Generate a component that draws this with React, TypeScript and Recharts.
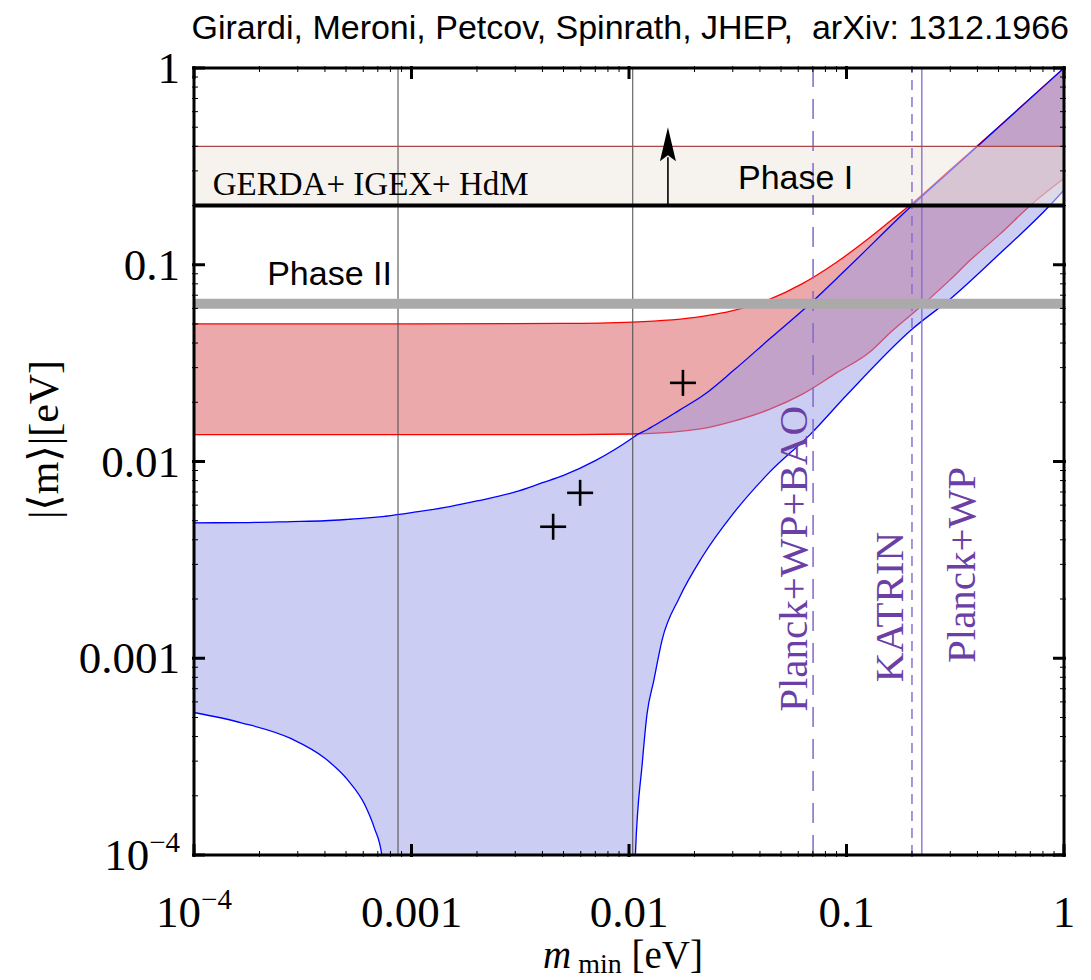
import React from 'react';
import { ComposedChart, Area, Scatter, XAxis, YAxis, ReferenceLine, ReferenceDot } from 'recharts';

const SERIF = '"Liberation Serif", "Times New Roman", "DejaVu Serif", serif';
const SANS = '"Liberation Sans", Arial, "DejaVu Sans", sans-serif';
const PURPLE_TEXT = '#6b3fa6';
const PURPLE_LINE = '#8468cc';

// inverted hierarchy band, m_min [eV] -> |<m>| range [eV]
const IH_M = [1e-4, 0.001, 0.005, 0.0104, 0.0217, 0.03, 0.0442, 0.0627, 0.09, 0.128, 0.16, 0.211, 0.3, 0.369, 0.5, 0.743, 1];
const IH_LO = [0.0137, 0.0137, 0.0137, 0.0138, 0.0147, 0.016, 0.0184, 0.022, 0.0282, 0.036, 0.0455, 0.0591, 0.084, 0.105, 0.141, 0.212, 0.275];
const IH_HI = [0.0501, 0.0501, 0.0503, 0.0511, 0.0546, 0.0584, 0.0667, 0.0802, 0.103, 0.1374, 0.1677, 0.215, 0.304, 0.372, 0.502, 0.745, 1];

// normal hierarchy band; BELOW means the minimum drops under the plotted range
const BELOW = 1e-6;
const NH_M = [
  1e-4, 1.65e-4, 2.8e-4, 4e-4, 5.1e-4, 6.1e-4, 6.75e-4, 7.3e-4, 7.6e-4, 0.001, 0.0015, 0.002, 0.003, 0.004, 0.005, 0.007,
  0.0104, 0.0107, 0.0115, 0.0121, 0.013, 0.0142, 0.017, 0.0217, 0.03, 0.0442, 0.068, 0.1, 0.2, 0.3, 0.5, 0.86, 1,
];
const NH_LO = [
  5.3e-4, 4.7e-4, 3.9e-4, 3.1e-4, 2.4e-4, 1.8e-4, 1.37e-4, 1.0e-4, BELOW, BELOW, BELOW, BELOW, BELOW, BELOW, BELOW, BELOW,
  BELOW, 1.0e-4, 2.9e-4, 5.2e-4, 7.7e-4, 0.00124, 0.00202, 0.00327, 0.0054, 0.0088, 0.0137, 0.0217, 0.047, 0.067, 0.1124, 0.2, 0.24,
];
const NH_HI = [
  0.00488, 0.00489, 0.00495, 0.005, 0.00508, 0.00515, 0.0052, 0.00524, 0.00527, 0.0055, 0.0059, 0.0063, 0.007, 0.0078, 0.0085, 0.0101,
  0.0132, 0.0135, 0.0141, 0.0145, 0.0152, 0.0161, 0.0182, 0.0215, 0.0288, 0.0419, 0.0634, 0.0951, 0.2, 0.3, 0.5, 0.86, 1,
];

// GERDA+IGEX+HdM band and experiment lines
const BAND_M = [1e-4, 1];
const BAND_LO = 0.2;
const BAND_HI = 0.4;
const PHASE2 = 0.0634;
const GRAY_M = [8.67e-4, 0.0104];
const BAO_M = 0.0702;
const KATRIN_M = 0.2;
const PLANCK_M = 0.222;
const ARROW_M = 0.0151;
const ARROW_TOP = 0.5;

// model points
const CROSS_M = [0.00448, 0.00596, 0.0177];
const CROSS_Y = [0.00466, 0.00693, 0.0251];

const DECADES = [1e-4, 1e-3, 1e-2, 1e-1, 1];
const DECADE_LABELS = ['10^-4', '0.001', '0.01', '0.1', '1'];
const MINOR_STEPS = [2, 3, 4, 5, 6, 7, 8, 9];
const TICKS = DECADES.flatMap((d, i) => (i < DECADES.length - 1 ? [d, ...MINOR_STEPS.map((s) => d * s)] : [d]));

const ihData = IH_M.map((m, i) => ({ m, ih: [IH_LO[i], IH_HI[i]] }));
const nhData = NH_M.map((m, i) => ({ m, nh: [NH_LO[i], NH_HI[i]] }));
const bandData = BAND_M.map((m) => ({ m, band: [BAND_LO, BAND_HI] }));
const crossData = CROSS_M.map((m, i) => ({ m, y: CROSS_Y[i] }));

const majorIndex = (v: number) => DECADES.findIndex((d) => Math.abs(v - d) / d < 1e-6);

const tickLabel = (idx: number, x: number, y: number, anchor: 'middle' | 'end') => {
  const lab = DECADE_LABELS[idx];
  if (lab.includes('^')) {
    const [base, exp] = lab.split('^');
    return (
      <text x={x} y={y} textAnchor={anchor} fontFamily={SERIF} fontSize={45} fill="#000">
        {base}
        <tspan dy={-18} fontSize={29}>{exp.replace('-', '\u2212')}</tspan>
      </text>
    );
  }
  return (
    <text x={x} y={y} textAnchor={anchor} fontFamily={SERIF} fontSize={45} fill="#000">
      {lab}
    </text>
  );
};

const BottomTick = (props: any) => {
  const { x, y, payload } = props;
  const idx = majorIndex(payload.value);
  return (
    <g>
      <line x1={x} x2={x} y1={y} y2={y - (idx >= 0 ? 13 : 6)} stroke="#000" strokeWidth={idx >= 0 ? 3 : 1} />
      {idx >= 0 && tickLabel(idx, x, y + 70, 'middle')}
    </g>
  );
};

const TopTick = (props: any) => {
  const { x, y, payload } = props;
  const idx = majorIndex(payload.value);
  return <line x1={x} x2={x} y1={y} y2={y + (idx >= 0 ? 13 : 6)} stroke="#000" strokeWidth={idx >= 0 ? 3 : 1} />;
};

const LeftTick = (props: any) => {
  const { x, y, payload } = props;
  const idx = majorIndex(payload.value);
  return (
    <g>
      <line x1={x} x2={x + (idx >= 0 ? 13 : 6)} y1={y} y2={y} stroke="#000" strokeWidth={idx >= 0 ? 3 : 1} />
      {idx >= 0 && tickLabel(idx, x - 12, y + 15, 'end')}
    </g>
  );
};

const RightTick = (props: any) => {
  const { x, y, payload } = props;
  const idx = majorIndex(payload.value);
  return <line x1={x} x2={x - (idx >= 0 ? 13 : 6)} y1={y} y2={y} stroke="#000" strokeWidth={idx >= 0 ? 3 : 1} />;
};

const center = (p: any) => {
  const vb = p.viewBox || {};
  return { cx: (vb.x ?? 0) + (vb.width ?? 0) / 2, cy: (vb.y ?? 0) + (vb.height ?? 0) / 2 };
};

const plainText = (text: string, font: string, size: number) => (p: any) => {
  const { cx, cy } = center(p);
  return (
    <text x={cx} y={cy} textAnchor="start" fontFamily={font} fontSize={size} fill="#000" style={{ whiteSpace: 'pre' }}>
      {text}
    </text>
  );
};

const verticalText = (text: string) => (p: any) => {
  const { cx, cy } = center(p);
  return (
    <text x={cx} y={cy} textAnchor="middle" fontFamily={SERIF} fontSize={41} fill={PURPLE_TEXT} transform={`rotate(-90 ${cx} ${cy})`}>
      {text}
    </text>
  );
};

const Cross = (props: any) => {
  const { cx, cy } = props;
  const h = 13;
  return (
    <g stroke="#000" strokeWidth={2.6}>
      <line x1={cx - h} x2={cx + h} y1={cy} y2={cy} />
      <line x1={cx} x2={cx} y1={cy - h} y2={cy + h} />
    </g>
  );
};

const Arrow = (props: any) => {
  const { x1, y1, x2, y2 } = props;
  const head = 34;
  return (
    <g>
      <line x1={x1} x2={x2} y1={y1} y2={y2 + head - 4} stroke="#000" strokeWidth={1.6} />
      <polygon points={`${x2},${y2} ${x2 - 8},${y2 + head} ${x2},${y2 + head - 6} ${x2 + 8},${y2 + head}`} fill="#000" />
    </g>
  );
};

const XLabel = (p: any) => {
  const { x, y, width } = p.viewBox;
  return (
    <text x={x + width / 2 - 6} y={y + 113} textAnchor="middle" fontFamily={SERIF} fontSize={39} fill="#000">
      <tspan fontStyle="italic">m</tspan>
      <tspan fontSize={28} dy={5}> min</tspan>
      <tspan dy={-5}> [eV]</tspan>
    </text>
  );
};

const YLabel = (p: any) => {
  const { x, y, height } = p.viewBox;
  const cx = x + 58;
  const cy = y + height / 2 - 22;
  return (
    <text x={cx} y={cy} textAnchor="middle" fontFamily={SERIF} fontSize={42} fill="#000" transform={`rotate(-90 ${cx} ${cy})`}>
      |{'\u27E8'}m{'\u27E9'}|[eV]
    </text>
  );
};

const logAxis = {
  type: 'number' as const,
  scale: 'log' as const,
  domain: [1e-4, 1],
  allowDataOverflow: true,
  ticks: TICKS,
  interval: 0,
  tickSize: 0,
  tickLine: false,
  axisLine: { stroke: '#000', strokeWidth: 3 },
};

export default function App() {
  return (
    <div style={{ position: 'absolute', left: 0, top: 0, width: 1091, height: 980, background: '#fff' }}>
      <div
        style={{
          position: 'absolute',
          right: 22,
          top: 10,
          fontFamily: SANS,
          fontSize: 34,
          lineHeight: 1,
          whiteSpace: 'pre',
          color: '#000',
        }}
      >
        Girardi, Meroni, Petcov, Spinrath, JHEP,  arXiv: 1312.1966
      </div>
      <ComposedChart width={1091} height={980} margin={{ top: 0, right: 0, bottom: 0, left: 0 }}>
        <Area
          data={ihData}
          dataKey="ih"
          type="monotoneX"
          fill="#eba9ab"
          fillOpacity={1}
          stroke="#ff0000"
          strokeWidth={1.3}
          isAnimationActive={false}
        />
        <Area
          data={nhData}
          dataKey="nh"
          type="monotoneX"
          fill="#999be6"
          fillOpacity={0.5}
          stroke="#0000ff"
          strokeWidth={1.3}
          isAnimationActive={false}
        />
        <Area
          data={bandData}
          dataKey="band"
          type="linear"
          fill="#ede7dd"
          fillOpacity={0.5}
          stroke="none"
          isAnimationActive={false}
        />
        {GRAY_M.map((m) => (
          <ReferenceLine key={m} x={m} stroke="#4a4a4a" strokeOpacity={0.85} strokeWidth={1.2} />
        ))}
        <ReferenceLine x={BAO_M} stroke={PURPLE_LINE} strokeWidth={1.5} strokeDasharray="20 12" />
        <ReferenceLine x={KATRIN_M} stroke={PURPLE_LINE} strokeWidth={1.4} strokeDasharray="10 7" />
        <ReferenceLine x={PLANCK_M} stroke={PURPLE_LINE} strokeWidth={1.3} />
        <ReferenceLine y={BAND_HI} stroke="#a84848" strokeWidth={1.2} />
        <ReferenceLine y={BAND_LO} stroke="#000" strokeWidth={4} />
        <ReferenceLine y={PHASE2} stroke="#aaaaaa" strokeWidth={10} />
        <ReferenceLine
          segment={[
            { x: ARROW_M, y: BAND_LO },
            { x: ARROW_M, y: ARROW_TOP },
          ]}
          shape={Arrow}
        />
        <Scatter data={crossData} dataKey="y" shape={Cross} isAnimationActive={false} />

        <ReferenceDot x={1.22e-4} y={0.2275} r={0} fill="none" stroke="none" label={plainText('GERDA+ IGEX+ HdM', SERIF, 33)} />
        <ReferenceDot x={0.0317} y={0.244} r={0} fill="none" stroke="none" label={plainText('Phase I', SANS, 34)} />
        <ReferenceDot x={2.17e-4} y={0.0792} r={0} fill="none" stroke="none" label={plainText('Phase II', SANS, 34)} />
        <ReferenceDot x={0.0658} y={0.0032} r={0} fill="none" stroke="none" label={verticalText('Planck+WP+BAO')} />
        <ReferenceDot x={0.182} y={0.00182} r={0} fill="none" stroke="none" label={verticalText('KATRIN')} />
        <ReferenceDot x={0.39} y={0.00298} r={0} fill="none" stroke="none" label={verticalText('Planck+WP')} />

        <XAxis {...logAxis} dataKey="m" orientation="bottom" height={125} tick={<BottomTick />} label={{ content: XLabel }} />
        <XAxis {...logAxis} xAxisId="top" dataKey="m" orientation="top" height={68} tick={<TopTick />} />
        <YAxis {...logAxis} orientation="left" width={194} tick={<LeftTick />} label={{ content: YLabel }} />
        <YAxis {...logAxis} yAxisId="right" orientation="right" width={27} tick={<RightTick />} />
      </ComposedChart>
    </div>
  );
}
